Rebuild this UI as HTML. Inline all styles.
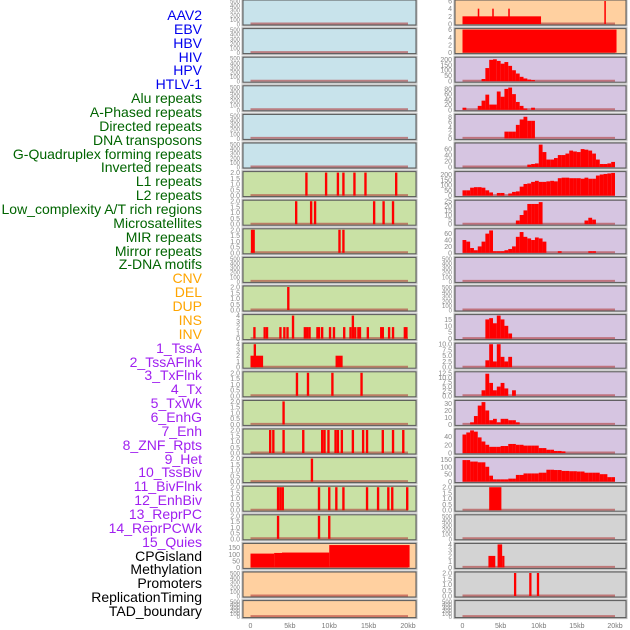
<!DOCTYPE html>
<html><head><meta charset="utf-8">
<style>
html,body{margin:0;padding:0;background:#fff;}
body{width:630px;height:630px;overflow:hidden;position:relative;font-family:"Liberation Sans",sans-serif;}
#labels div{position:absolute;right:428px;font-size:14px;line-height:14px;white-space:nowrap;}
</style></head>
<body>
<div id="labels"></div>
<svg id="chart" width="630" height="630" style="position:absolute;left:0;top:0"></svg>
<script>
// ---- labels ----
const labelNames = ["AAV2","EBV","HBV","HIV","HPV","HTLV-1","Alu repeats","A-Phased repeats","Directed repeats","DNA transposons","G-Quadruplex forming repeats","Inverted repeats","L1 repeats","L2 repeats","Low_complexity A/T rich regions","Microsatellites","MIR repeats","Mirror repeats","Z-DNA motifs","CNV","DEL","DUP","INS","INV","1_TssA","2_TssAFlnk","3_TxFlnk","4_Tx","5_TxWk","6_EnhG","7_Enh","8_ZNF_Rpts","9_Het","10_TssBiv","11_BivFlnk","12_EnhBiv","13_ReprPC","14_ReprPCWk","15_Quies","CPGisland","Methylation","Promoters","ReplicationTiming","TAD_boundary"];
const labelGroups = ["v","v","v","v","v","v","r","r","r","r","r","r","r","r","r","r","r","r","r","c","c","c","c","c","s","s","s","s","s","s","s","s","s","s","s","s","s","s","s","o","o","o","o","o"];
const groupColor = {v:"#0000ee",r:"#006400",c:"#ffa500",s:"#a020f0",o:"#000"};

// ---- data (kb positions / values) ----
const binWidthKb = 0.5;
const L6_bars = [7.1,9.6,11.1,11.8,13.2,14.6,18.5];
const L7_bars = [5.8,7.7,8.2,15.7,16.9,18.1];
const L8_bars = [0.2,0.4,11.3,11.8];
const L10_bars = [4.8];
const L11_pos = [0.5,1.8,2.1,3.8,4.3,4.7,5.4,6.9,7.2,7.5,8.5,8.7,9.1,10.1,10.6,11.9,12.7,13.0,13.3,13.7,13.9,14.9,16.6,16.8,17.6,18.1,19.6,19.8];
const L11_val = [2,2,2,2,2,2,4,2,2,2,2,2,2,2,2,2,2,4,2,2,2,2,2,2,2,2,2,2];
const L12_segs = [[0,1.6,2],[0.4,0.7,4],[10.8,11.7,2]];
const L13_bars = [5.9,7.3,10.4,14.1];
const L14_bars = [4.2];
const L15_bars = [2.5,2.9,4.2,6.7,9.1,9.4,9.9,10.8,11.1,11.6,13.0,14.3,14.8,16.8,18.1,19.4];
const L16_bars = [7.8];
const L17_bars = [3.5,3.8,4.1,8.7,10.0,10.9,11.8,14.8,16.2,17.5,18.0,19.9];
const L18_bars = [3.5,8.7,10.0];
const L19_segs = [[0,3,105],[3,4,110],[4,10,113],[10,20.2,170]];

const R0_segs = [[0,10.3,2],[2.0,2.2,4],[3.9,4.1,4],[6.0,6.2,4],[18.6,18.8,6]];
const R1_segs = [[0,20.2,6]];
const R2_bins = [0,0,0,0,0,20,120,195,200,185,160,175,140,100,70,40,25,15,10];
const R3_bins = [8,0,0,0,15,35,58,20,20,70,50,80,85,60,30,15,5,0,8];
const R4_bins = [0,0,0,0,0,0,0,0,0,0,0,2.5,2.5,2.5,5,7,8,6.5,6.5];
const R5_bins = [0,0,0,0,0,0,0,0,0,0,0,0,0,0,0,0,0,8,10,12,75,50,25,25,30,40,40,45,55,52,50,60,58,55,45,25,10,10,12,17];
const R6_bins = [50,50,75,80,80,75,50,30,0,25,25,0,20,35,40,85,110,115,130,140,130,130,135,140,135,165,170,170,165,165,165,160,170,160,160,190,200,205,210,215];
const R7_bins = [0,0,0,0,0,0,0,0,0,0,0,0,0,0,4,10,15,22,22,22,24,0,0,0,0,0,0,0,0,0,0,0,4,7,5];
const R8_bins = [40,35,15,8,20,35,60,70,5,5,5,8,12,20,50,65,50,45,40,48,45,35,0,0,0,5,0,0,0,0,0,0,0,5,5];
const R11_bins = [0,0,0,0,0,0,15,16,12,18,15,10,4];
const R12_bins = [0,0,0,0,0,0,3,10,2.5,10,4.5,2.5,4.5];
const R13_bins = [0,0,0,0,0,3,12,7,3,5,7,4,0,3];
const R14_bins = [0,0,3,12,27,32,20,6,8,3,8,8,6,6,3];
const R15_bins = [45,50,55,52,38,28,20,15,15,15,17,17,22,22,20,20,18,18,18,18,12,12,8,8,5,5,4];
const R16_bins = [145,145,135,135,130,130,100,40,15,15,15,15,20,20,45,45,55,55,55,55,60,60,80,80,78,78,72,72,70,70,68,68,60,60,60,60,50,50,30,30];
const R17_segs = [[3.5,5.1,2]];
const R19_segs = [[3.4,4.3,2],[4.6,5.2,4],[5.2,5.5,2]];
const R20_bars = [6.9,8.9,9.9];

// tick label sets
const T_empty = ["0","100","200","300","400","500"];
const T_bin2 = ["0.0","0.5","1.0","1.5","2.0"];
const T_04 = ["0","1","2","3","4"];
const xTickLabels = ["0","5kb","10kb","15kb","20kb"];
const xTickValues = [0,5,10,15,20];

const BLUE="#c8e3eb",GREEN="#c9e1a5",ORANGE="#ffd0a0",PURPLE="#d6c5e1",GRAY="#d3d3d3";
const leftPanels = [];
for(let i=0;i<6;i++) leftPanels.push({bg:BLUE,max:500,ticks:T_empty});
leftPanels.push({bg:GREEN,max:2,ticks:T_bin2,bars:L6_bars});
leftPanels.push({bg:GREEN,max:2,ticks:T_bin2,bars:L7_bars});
leftPanels.push({bg:GREEN,max:2,ticks:T_bin2,bars:L8_bars});
leftPanels.push({bg:GREEN,max:500,ticks:T_empty});
leftPanels.push({bg:GREEN,max:2,ticks:T_bin2,bars:L10_bars});
leftPanels.push({bg:GREEN,max:4,ticks:T_04,bars:L11_pos,barVals:L11_val});
leftPanels.push({bg:GREEN,max:4,ticks:T_04,segs:L12_segs});
leftPanels.push({bg:GREEN,max:2,ticks:T_bin2,bars:L13_bars});
leftPanels.push({bg:GREEN,max:2,ticks:T_bin2,bars:L14_bars});
leftPanels.push({bg:GREEN,max:2,ticks:T_bin2,bars:L15_bars});
leftPanels.push({bg:GREEN,max:2,ticks:T_bin2,bars:L16_bars});
leftPanels.push({bg:GREEN,max:2,ticks:T_bin2,bars:L17_bars});
leftPanels.push({bg:GREEN,max:2,ticks:T_bin2,bars:L18_bars});
leftPanels.push({bg:ORANGE,max:175,ticks:["0","50","100","150"],tickVals:[0,50,100,150],segs:L19_segs});
leftPanels.push({bg:ORANGE,max:500,ticks:T_empty});
leftPanels.push({bg:ORANGE,max:500,ticks:T_empty,short:true});

const rightPanels = [
 {bg:ORANGE,max:6,ticks:["0","2","4","6"],segs:R0_segs},
 {bg:ORANGE,max:6,ticks:["0","2","4","6"],segs:R1_segs},
 {bg:PURPLE,max:210,ticks:["0","50","100","150","200"],bins:R2_bins},
 {bg:PURPLE,max:88,ticks:["0","20","40","60","80"],bins:R3_bins},
 {bg:PURPLE,max:8.5,ticks:["0","2","4","6","8"],bins:R4_bins},
 {bg:PURPLE,max:77,ticks:["0","20","40","60"],bins:R5_bins},
 {bg:PURPLE,max:218,ticks:["0","50","100","150","200"],bins:R6_bins},
 {bg:PURPLE,max:25,ticks:["0","5","10","15","20","25"],bins:R7_bins},
 {bg:PURPLE,max:72,ticks:["0","20","40","60"],bins:R8_bins},
 {bg:PURPLE,max:500,ticks:T_empty},
 {bg:PURPLE,max:500,ticks:T_empty},
 {bg:PURPLE,max:18,ticks:["0","5","10","15"],bins:R11_bins},
 {bg:PURPLE,max:10,ticks:["0.0","2.5","5.0","7.5","10.0"],bins:R12_bins},
 {bg:PURPLE,max:12.5,ticks:["0.0","2.5","5.0","7.5","10.0","12.5"],bins:R13_bins},
 {bg:PURPLE,max:33,ticks:["0","10","20","30"],bins:R14_bins},
 {bg:PURPLE,max:56,ticks:["0","20","40"],bins:R15_bins},
 {bg:PURPLE,max:155,ticks:["0","50","100","150"],bins:R16_bins},
 {bg:GRAY,max:2,ticks:T_bin2,segs:R17_segs},
 {bg:GRAY,max:500,ticks:T_empty},
 {bg:GRAY,max:4,ticks:T_04,segs:R19_segs},
 {bg:GRAY,max:2,ticks:T_bin2,bars:R20_bars},
 {bg:GRAY,max:500,ticks:T_empty,short:true}
];

// ---- render ----
const NS="http://www.w3.org/2000/svg";
const svg=document.getElementById('chart');
function mk(tag,attrs,parent){const e=document.createElementNS(NS,tag);for(const k in attrs)e.setAttribute(k,attrs[k]);(parent||svg).appendChild(e);return e;}

const lab=document.getElementById('labels');
labelNames.forEach((t,i)=>{
  const d=document.createElement('div');
  d.textContent=t;
  d.style.color=groupColor[labelGroups[i]];
  d.style.top=(8+i*13.86)+'px';
  
  
  lab.appendChild(d);
});

const ROW=28.6;
function drawPanel(p,row,side){
  const x0=side==='L'?243:455, x1=side==='L'?416:626;
  const xs=side==='L'?(kb=>250.5+kb*(157.5/20)):(kb=>462.5+kb*(152.5/20));
  const top=row*ROW, h=p.short?17:25;
  const bottom=top+h;
  const ys=v=>bottom-1-(v/p.max)*(h-2);
  const g=mk('g',{});
  
  
  mk('rect',{x:x0-1,y:top-1,width:x1-x0+2,height:h+2,fill:'none',stroke:'#bbb','stroke-width':1},g);
  mk('rect',{x:x0,y:top,width:x1-x0,height:h,fill:p.bg},g);
  mk('line',{x1:xs(0),x2:xs(20),y1:bottom-1.5,y2:bottom-1.5,stroke:'#b03a3a','stroke-width':2,'stroke-opacity':0.6},g);
  const rects=[];
  if(p.bins) p.bins.forEach((v,i)=>{ if(v>0) rects.push([i*binWidthKb,(i+1)*binWidthKb,v]); });
  if(p.segs) p.segs.forEach(s=>rects.push(s));
  if(p.bars) p.bars.forEach((b,i)=>rects.push([b-0.15,b+0.15,p.barVals?p.barVals[i]:2]));
  rects.forEach(r=>{
    const bar=mk('rect',{x:xs(r[0]),y:ys(r[2]),width:Math.max(1.5,xs(r[1])-xs(r[0])),height:bottom-1-ys(r[2]),fill:'#ff0000'},g);
    
    
  });
  mk('rect',{x:x0,y:top,width:x1-x0,height:h,fill:'none',stroke:'#555','stroke-width':1},g);
  p.ticks.forEach((t,i)=>{
    const val=p.tickVals?p.tickVals[i]:(p.max===500?i*100:parseFloat(t));
    const tx=mk('text',{x:x0-3,y:ys(val)+2.5,'text-anchor':'end','font-size':(p.max===500?6:7),fill:'#888','font-family':'Liberation Sans, sans-serif'},g);
    tx.textContent=t;
    
    
  });
}
leftPanels.forEach((p,i)=>drawPanel(p,i,'L'));
rightPanels.forEach((p,i)=>drawPanel(p,i,'R'));

// x axes
[['L',kb=>250.5+kb*(157.5/20)],['R',kb=>462.5+kb*(152.5/20)]].forEach(([s,xs])=>{
  xTickValues.forEach((v,i)=>{
    const t=mk('text',{x:xs(v),y:628,'text-anchor':'middle','font-size':7,fill:'#777','font-family':'Liberation Sans, sans-serif'});
    t.textContent=xTickLabels[i];
    
    
  });
});
</script>
</body></html>
